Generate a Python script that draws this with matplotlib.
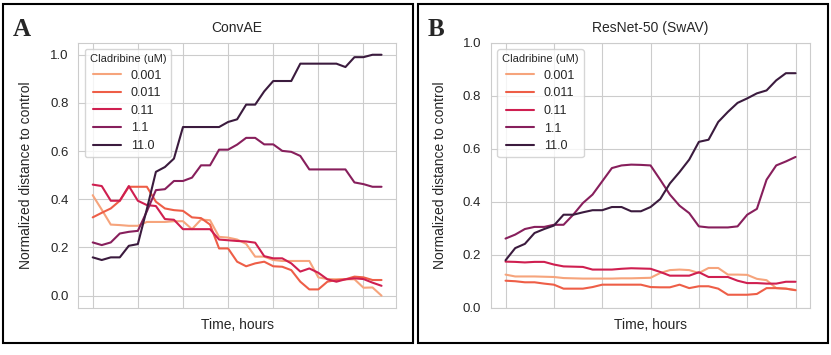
import matplotlib
matplotlib.use("Agg")
import matplotlib.pyplot as plt
import seaborn as sns
import numpy as np

sns.set_style("whitegrid")
plt.rcParams['font.family'] = ['Liberation Sans', 'DejaVu Sans']

doses = ["0.001", "0.011", "0.11", "1.1", "11.0"]
colors = ["#f6a47c", "#ee5e47", "#cf1f50", "#871f5c", "#3b1b3e"]

# ConvAE panel, 33 time points
convae_0001 = [0.417, 0.357, 0.295, 0.293, 0.290, 0.290, 0.306, 0.306, 0.306, 0.309, 0.309,
               0.276, 0.316, 0.313, 0.244, 0.241, 0.233, 0.215, 0.162, 0.162, 0.148, 0.144,
               0.144, 0.144, 0.144, 0.076, 0.069, 0.068, 0.068, 0.068, 0.033, 0.034, 0.0]
convae_0011 = [0.325, 0.344, 0.362, 0.394, 0.452, 0.452, 0.452, 0.390, 0.362, 0.355, 0.352,
               0.325, 0.322, 0.295, 0.196, 0.196, 0.141, 0.122, 0.134, 0.141, 0.122, 0.120,
               0.106, 0.058, 0.026, 0.026, 0.058, 0.065, 0.068, 0.079, 0.076, 0.065, 0.065]
convae_011 = [0.461, 0.455, 0.394, 0.394, 0.455, 0.394, 0.376, 0.372, 0.318, 0.315, 0.276,
              0.276, 0.276, 0.276, 0.233, 0.230, 0.227, 0.225, 0.220, 0.164, 0.155, 0.155,
              0.134, 0.100, 0.113, 0.095, 0.068, 0.058, 0.068, 0.072, 0.069, 0.054, 0.041]
convae_11 = [0.221, 0.210, 0.221, 0.258, 0.265, 0.269, 0.350, 0.438, 0.442, 0.476, 0.476,
             0.490, 0.541, 0.541, 0.606, 0.606, 0.627, 0.655, 0.655, 0.628, 0.628, 0.601,
             0.597, 0.580, 0.524, 0.524, 0.524, 0.524, 0.524, 0.470, 0.463, 0.452, 0.452]
convae_110 = [0.159, 0.148, 0.159, 0.159, 0.207, 0.214, 0.360, 0.514, 0.534, 0.569, 0.700,
              0.700, 0.700, 0.700, 0.700, 0.721, 0.732, 0.793, 0.793, 0.848, 0.891, 0.891,
              0.891, 0.963, 0.963, 0.963, 0.963, 0.963, 0.949, 0.990, 0.990, 1.0, 1.0]

# ResNet-50 (SwAV) panel, 31 time points
swav_0001 = [0.126, 0.119, 0.119, 0.119, 0.118, 0.117, 0.113, 0.112, 0.111, 0.111, 0.111,
             0.111, 0.112, 0.112, 0.113, 0.114, 0.132, 0.143, 0.145, 0.143, 0.132, 0.151,
             0.151, 0.126, 0.126, 0.125, 0.110, 0.105, 0.075, 0.073, 0.068]
swav_0011 = [0.103, 0.101, 0.097, 0.097, 0.092, 0.088, 0.073, 0.073, 0.073, 0.079, 0.088,
             0.088, 0.088, 0.088, 0.088, 0.079, 0.078, 0.078, 0.088, 0.075, 0.082, 0.082,
             0.073, 0.050, 0.050, 0.050, 0.053, 0.075, 0.075, 0.073, 0.067]
swav_011 = [0.175, 0.174, 0.172, 0.174, 0.174, 0.164, 0.157, 0.156, 0.155, 0.145, 0.145,
            0.145, 0.148, 0.150, 0.149, 0.148, 0.136, 0.122, 0.122, 0.122, 0.135, 0.117,
            0.117, 0.117, 0.103, 0.094, 0.094, 0.092, 0.092, 0.099, 0.099]
swav_11 = [0.262, 0.277, 0.298, 0.306, 0.306, 0.314, 0.314, 0.352, 0.396, 0.428, 0.478,
           0.528, 0.538, 0.541, 0.540, 0.538, 0.484, 0.428, 0.386, 0.358, 0.308, 0.304,
           0.304, 0.304, 0.308, 0.352, 0.374, 0.484, 0.538, 0.553, 0.570]
swav_110 = [0.180, 0.226, 0.242, 0.283, 0.298, 0.311, 0.352, 0.352, 0.361, 0.369, 0.369,
            0.381, 0.381, 0.365, 0.365, 0.381, 0.411, 0.470, 0.513, 0.560, 0.627, 0.635,
            0.702, 0.740, 0.774, 0.791, 0.810, 0.821, 0.859, 0.886, 0.886]

fig = plt.figure(figsize=(8.31, 3.55), dpi=100)
ax1 = fig.add_axes([0.0942, 0.1332, 0.3823, 0.7465])
ax2 = fig.add_axes([0.5909, 0.1324, 0.3839, 0.7465])

panels = [
    (ax1, "ConvAE", [convae_0001, convae_0011, convae_011, convae_11, convae_110], None),
    (ax2, "ResNet-50 (SwAV)", [swav_0001, swav_0011, swav_011, swav_11, swav_110], (0, 1.0)),
]

for ax, title, series, ylim in panels:
    for vals, lab, c in zip(series, doses, colors):
        ax.plot(np.arange(len(vals)), vals, color=c, lw=1.5, label=lab)
    ax.set_xticks(range(0, 31, 5))
    ax.set_xticklabels([])
    ax.set_yticks(np.arange(0, 1.01, 0.2))
    ax.set_yticklabels(["%.1f" % t for t in np.arange(0, 1.01, 0.2)])
    if ylim:
        ax.set_ylim(*ylim)
    ax.tick_params(labelsize=9.5, length=0, pad=7)
    ax.set_title(title, fontsize=10, pad=8)
    ax.set_xlabel("Time, hours", fontsize=10)
    ax.set_ylabel("Normalized distance to control", fontsize=10)
    ax.xaxis.set_label_coords(0.5, -0.065)
    ax.xaxis.label.set_va("center")
    leg = ax.legend(title="Cladribine (uM)", loc="upper left", fontsize=9,
                    title_fontsize=8, labelspacing=0.45, handlelength=2.2)

ax1.yaxis.set_label_coords(-0.143, 0.5)
ax2.yaxis.set_label_coords(-0.139, 0.5)

# panel borders and letters
for x0, w in [(3.3, 410), (418, 409.5)]:
    fig.patches.append(plt.Rectangle((x0 / 831, 1 - 343.3 / 355), w / 831, 339.3 / 355,
                                     transform=fig.transFigure, fill=False,
                                     edgecolor="black", lw=1.5))
fig.text(12.5 / 831, 1 - 36.5 / 355, "A", fontsize=18, fontweight="bold",
         family="Liberation Serif", va="baseline")
fig.text(427.5 / 831, 1 - 36.5 / 355, "B", fontsize=18, fontweight="bold",
         family="Liberation Serif", va="baseline")

fig.savefig("out.png", dpi=100)
